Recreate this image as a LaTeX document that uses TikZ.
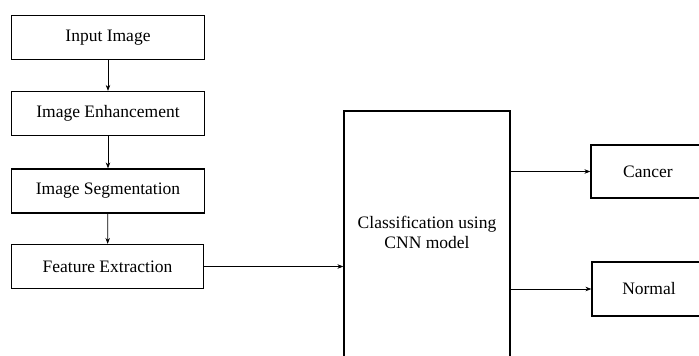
\documentclass[tikz,border=0pt]{standalone}
\usepackage{fontspec}
\setmainfont{Liberation Serif}
\usetikzlibrary{arrows.meta}

\tikzset{
  stagebox/.style={draw, line width=1.2pt, minimum width=193pt, minimum height=44pt, inner sep=0pt},
  outbox/.style={draw, line width=1.2pt, minimum width=114pt, minimum height=53pt, inner sep=0pt},
  flow/.style={-{Stealth[length=6pt,width=4.5pt]}, line width=0.7pt}
}

\begin{document}
\begin{tikzpicture}[x=1pt, y=-1pt, font=\fontsize{17.5}{20}\selectfont]
    \useasboundingbox (0,0) rectangle (699,356);
    \clip (0,0) rectangle (699,356);

    % Stages on the left
    \node[stagebox] (input) at (108,37.5) {Input Image};
    \node[stagebox] (enhance) at (108,113.5) {Image Enhancement};
    \node[stagebox] (segment) at (108,191) {Image Segmentation};
    \node[stagebox, minimum width=192pt] (feature) at (107.5,266.5) {Feature Extraction};

    % Classifier
    \node[draw, line width=1.2pt, minimum width=166pt, minimum height=269pt] (cnn) at (427,245.5) {};
    \node[align=center] (cnnlabel) at (427,232) {Classification using\\CNN model};

    % Outputs
    \node[outbox] (cancer) at (648,171.5) {Cancer};
    \node[outbox, minimum height=54pt] (normal) at (649,289) {Normal};

    % Connections
    \draw[flow] (input) -- (enhance);
    \draw[flow] (enhance) -- (segment);
    \draw[flow] (segment) -- (feature);
    \draw[flow] (feature.east) -- (feature.east -| cnn.west);
    \draw[flow] (cnn.east |- cancer.west) -- (cancer.west);
    \draw[flow] (cnn.east |- normal.west) -- (normal.west);
\end{tikzpicture}
\end{document}
